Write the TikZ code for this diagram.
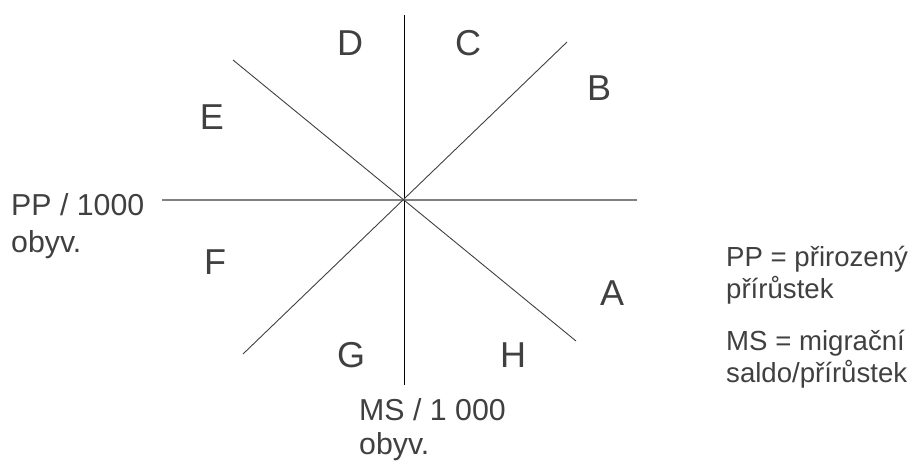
\documentclass[tikz,border=0pt]{standalone}
\usepackage{fontspec}
\setmainfont{Liberation Sans}
\definecolor{txtgray}{HTML}{404040}
\begin{document}
\begin{tikzpicture}[x=1pt,y=-1pt,
	sector/.style={text=txtgray,inner sep=0pt,font=\fontsize{36}{36}\selectfont},
	axislabel/.style={text=txtgray,anchor=base west,inner sep=0pt,font=\fontsize{30.3}{36}\selectfont},
	legend/.style={text=txtgray,anchor=base west,inner sep=0pt,font=\fontsize{27.6}{32}\selectfont}]
	\useasboundingbox (0,0) rectangle (912,461);
	% axes and diagonals
	\coordinate (n) at (404,15);
	\coordinate (s) at (404,385);
	\coordinate (w) at (162,200);
	\coordinate (e) at (637,200);
	\coordinate (nw) at (233,60);
	\coordinate (se) at (576,341);
	\coordinate (ne) at (567,42);
	\coordinate (sw) at (243,354);
	\draw[black,line width=0.9pt] (n) -- (s);
	\draw[gray,line width=1.3pt] (w) -- (e);
	\draw[black!75,line width=0.9pt] (nw) -- (se);
	\draw[black!75,line width=0.9pt] (ne) -- (sw);
	% sectors
	\node[sector] (A) at (612,293) {A};
	\node[sector] (B) at (599,88) {B};
	\node[sector] (C) at (468,43) {C};
	\node[sector] (D) at (350,43) {D};
	\node[sector] (E) at (212,117) {E};
	\node[sector] (F) at (215,262) {F};
	\node[sector] (G) at (351,355) {G};
	\node[sector] (H) at (513,355) {H};
	% axis labels
	\node[axislabel] (pp1) at (11,215) {PP / 1000};
	\node[axislabel] (pp2) at (11,252) {obyv.};
	\node[axislabel] (ms1) at (359,420) {MS / 1 000};
	\node[axislabel] (ms2) at (359,454) {obyv.};
	% legend
	\node[legend] (leg1) at (726,266) {PP = přirozený};
	\node[legend] (leg2) at (726,298) {přírůstek};
	\node[legend] (leg3) at (726,350) {MS = migrační};
	\node[legend] (leg4) at (726,382) {saldo/přírůstek};
\end{tikzpicture}
\end{document}
